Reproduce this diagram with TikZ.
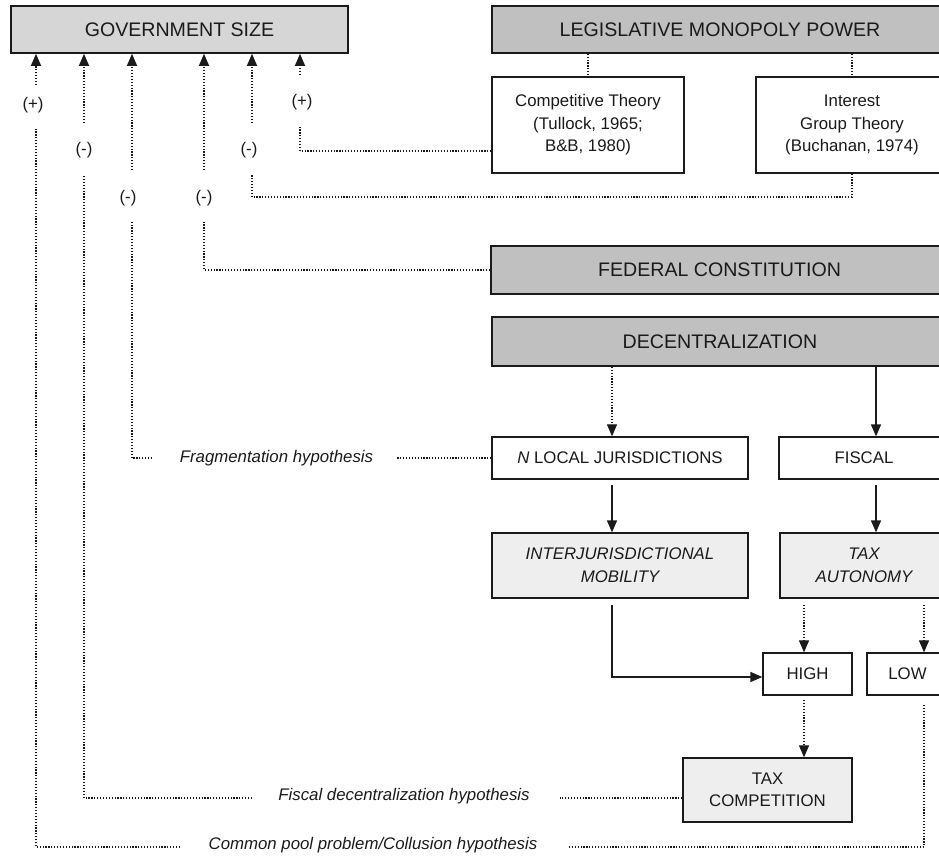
\documentclass[tikz,border=0pt]{standalone}
\usepackage{fontspec}
\setmainfont{Liberation Sans}
\usetikzlibrary{arrows.meta}
\definecolor{hdr}{HTML}{C0C0C0}
\definecolor{govfill}{HTML}{D6D6D6}
\definecolor{dotfill}{HTML}{EEEEEE}
\definecolor{ink}{HTML}{1A1A1A}
\begin{document}
\begin{tikzpicture}[x=1pt,y=-1pt,
  hdrbox/.style={draw=ink, line width=1.6pt, fill=hdr, inner sep=0pt, text=ink,
    font=\fontsize{19.6}{23}\selectfont},
  box/.style={draw=ink, line width=1.3pt, fill=white, inner sep=0pt, align=center, text=ink,
    font=\fontsize{16.8}{22.5}\selectfont},
  dotbox/.style={box, fill=dotfill},
  itbox/.style={dotbox, font=\fontsize{16.8}{23}\selectfont\itshape},
  dotline/.style={draw=ink, line width=1.2pt, dash pattern=on 1.2pt off 1.7pt},
  solidl/.style={draw=ink, line width=1.5pt},
  arr/.style={-{Triangle[length=12pt,width=10pt]}},
  lbl/.style={font=\fontsize{16.8}{20}\selectfont, inner sep=0pt, text=ink},
  hyp/.style={font=\fontsize{16.8}{20}\selectfont\itshape, inner sep=0pt, text=ink}]
\useasboundingbox (0,0) rectangle (939,856);

% boxes
\node[hdrbox, fill=govfill, minimum width=337pt, minimum height=47pt] (gov) at (179.5,29.5) {GOVERNMENT SIZE};
\node[hdrbox, minimum width=456pt, minimum height=47pt] (lmp) at (720,29.5) {LEGISLATIVE MONOPOLY POWER};
\node[box, minimum width=192pt, minimum height=96pt] (comp) at (588,125) {Competitive Theory\\(Tullock, 1965;\\B\&B, 1980)};
\node[box, minimum width=192pt, minimum height=96pt] (intg) at (852,125) {Interest\\Group Theory\\(Buchanan, 1974)};
\node[hdrbox, minimum width=457pt, minimum height=48pt] (fed) at (719.5,270) {FEDERAL CONSTITUTION};
\node[hdrbox, minimum width=456pt, minimum height=49pt] (dec) at (720,341.5) {DECENTRALIZATION};
\node[box, minimum width=256pt, minimum height=42pt] (nloc) at (620,458) {\textit{N} LOCAL JURISDICTIONS};
\node[box, minimum width=170pt, minimum height=42pt] (fisc) at (864,458) {FISCAL};
\node[itbox, minimum width=256pt, minimum height=65pt] (mob) at (620,565.5) {INTERJURISDICTIONAL\\MOBILITY};
\node[itbox, minimum width=168pt, minimum height=65pt] (taxa) at (864,565.5) {TAX\\AUTONOMY};
\node[box, minimum width=89pt, minimum height=42pt] (high) at (807.5,674) {HIGH};
\node[box, minimum width=81pt, minimum height=42pt] (low) at (907.5,674) {LOW};
\node[dotbox, minimum width=169pt, minimum height=64pt, font=\fontsize{16.8}{22}\selectfont] (taxc) at (767.5,790) {TAX\\COMPETITION};

% hypothesis texts
\node[hyp] (hfrag) at (276.5,458) {Fragmentation hypothesis};
\node[hyp] (hfisc) at (404,796) {Fiscal decentralization hypothesis};
\node[hyp] (hcomm) at (373,845) {Common pool problem/Collusion hypothesis};

% sign labels
\node[lbl] (s1) at (33,105) {(+)};
\node[lbl] (s2) at (84,150) {(-)};
\node[lbl] (s3) at (128,198) {(-)};
\node[lbl] (s4) at (204,198) {(-)};
\node[lbl] (s5) at (249,150) {(-)};
\node[lbl] (s6) at (302,102) {(+)};

% column coordinates
\coordinate (xL) at (612,0);
\coordinate (xR) at (876,0);

% legislative monopoly links
\draw[dotline] (lmp.south -| comp) -- (comp.north);
\draw[dotline] (lmp.south -| intg) -- (intg.north);

% (+) competitive theory
\coordinate (pF1) at (300,151);
\coordinate (pF2) at (300,127);
\coordinate (pF3) at (300,75);
\draw[dotline] (comp.west |- pF1) -- (pF1) -- (pF2);
\draw[dotline, arr] (pF3) -- (pF3 |- gov.south);

% (-) interest group
\coordinate (pE1) at (252,197);
\coordinate (pE2) at (252,175);
\coordinate (pE3) at (252,123);
\draw[dotline] (intg.south) -- (intg.south |- pE1) -- (pE1) -- (pE2);
\draw[dotline, arr] (pE3) -- (pE3 |- gov.south);

% (-) federal constitution
\coordinate (pD1) at (204,270);
\coordinate (pD2) at (204,220);
\coordinate (pD3) at (204,170);
\draw[dotline] (fed.west) -- (pD1) -- (pD2);
\draw[dotline, arr] (pD3) -- (pD3 |- gov.south);

% (-) fragmentation
\coordinate (pC0) at (396,458);
\coordinate (pC1) at (152,458);
\coordinate (pC2) at (132,458);
\coordinate (pC3) at (132,220);
\coordinate (pC4) at (132,170);
\draw[dotline] (nloc.west) -- (pC0);
\draw[dotline] (pC1) -- (pC2) -- (pC3);
\draw[dotline, arr] (pC4) -- (pC4 |- gov.south);

% (-) fiscal decentralization
\coordinate (pB0) at (560,798);
\coordinate (pB1) at (252,798);
\coordinate (pB2) at (84,798);
\coordinate (pB3) at (84,175);
\coordinate (pB4) at (84,123);
\draw[dotline] (taxc.west |- pB0) -- (pB0);
\draw[dotline] (pB1) -- (pB2) -- (pB3);
\draw[dotline, arr] (pB4) -- (pB4 |- gov.south);

% (+) common pool
\coordinate (pA0) at (924,705);
\coordinate (pA1) at (924,847);
\coordinate (pA2) at (568,847);
\coordinate (pA3) at (180,847);
\coordinate (pA4) at (36,847);
\coordinate (pA5) at (36,128);
\coordinate (pA6) at (36,85);
\draw[dotline] (pA0) -- (pA1) -- (pA2);
\draw[dotline] (pA3) -- (pA4) -- (pA5);
\draw[dotline, arr] (pA6) -- (pA6 |- gov.south);

% decentralization flow
\coordinate (m1) at (612,485);
\coordinate (m2) at (876,485);
\coordinate (m3) at (612,605);
\coordinate (m4) at (612,677);
\coordinate (m5) at (804,605);
\coordinate (m6) at (924,605);
\coordinate (m7) at (804,700);
\draw[dotline, arr] (dec.south -| xL) -- (nloc.north -| xL);
\draw[solidl, arr] (dec.south -| xR) -- (fisc.north -| xR);
\draw[solidl, arr] (m1) -- (mob.north -| m1);
\draw[solidl, arr] (m2) -- (taxa.north -| m2);
\draw[solidl, arr] (m3) -- (m4) -- (high.west |- m4);
\draw[dotline, arr] (m5) -- (high.north -| m5);
\draw[dotline, arr] (m6) -- (low.north -| m6);
\draw[dotline, arr] (m7) -- (taxc.north -| m7);
\end{tikzpicture}
\end{document}
